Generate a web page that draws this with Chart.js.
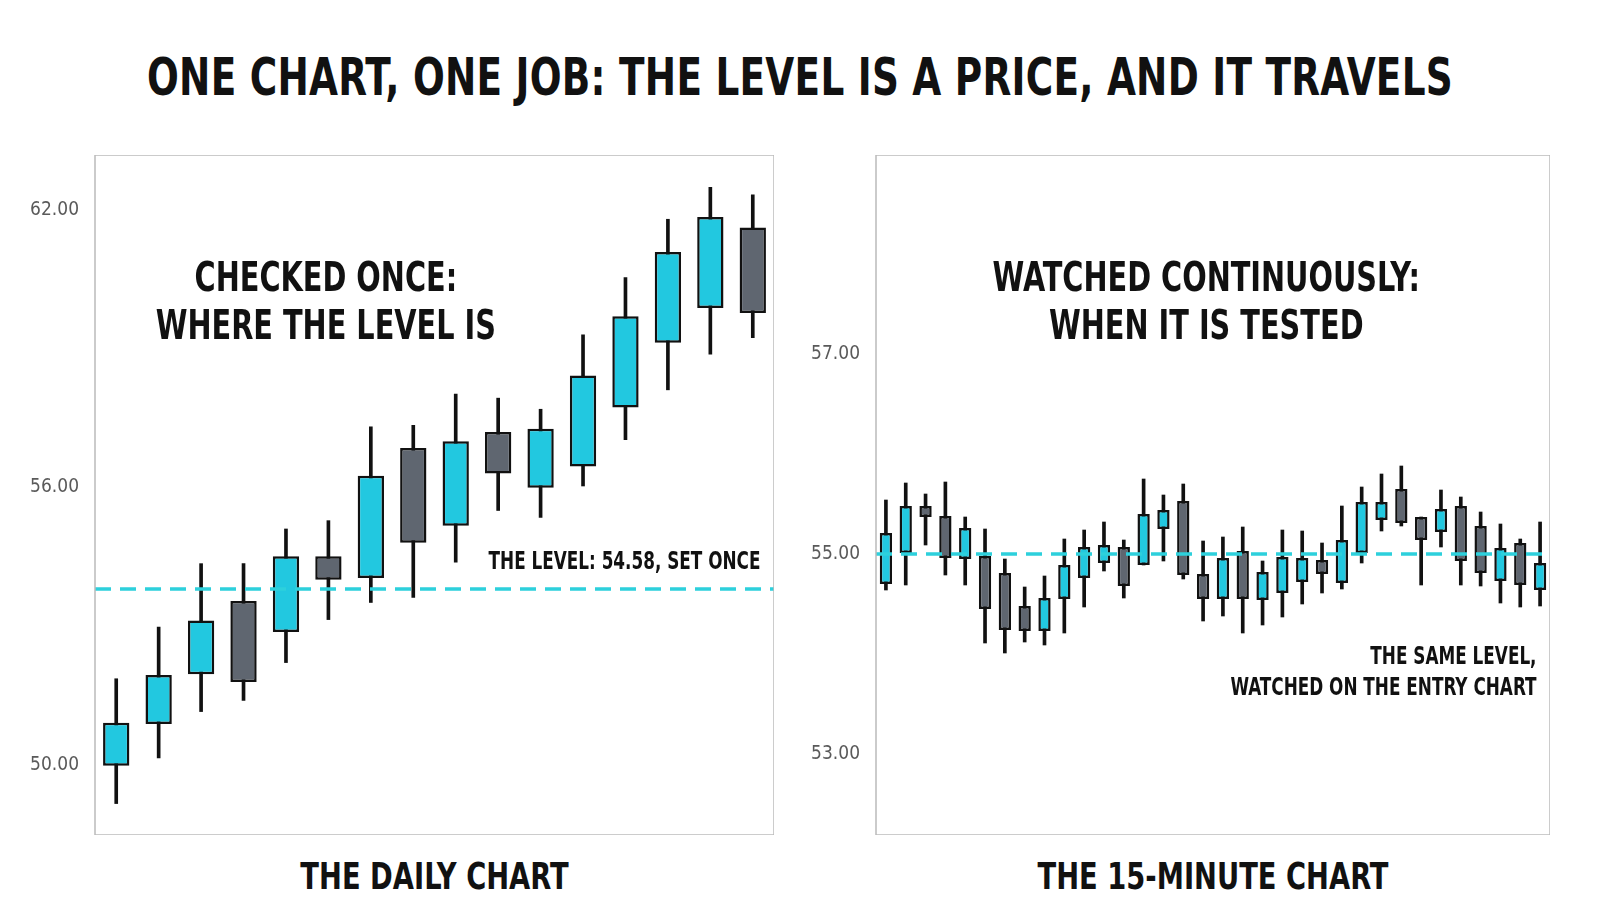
<!DOCTYPE html>
<html><head><meta charset="utf-8">
<script src="https://cdn.jsdelivr.net/npm/chart.js@4/dist/chart.umd.min.js"></script>
<style>
body{margin:0;width:1600px;height:914px;background:#fff;position:relative;overflow:hidden;font-family:"DejaVu Sans Condensed","DejaVu Sans",sans-serif;font-weight:bold;color:#111}
.t{position:absolute;white-space:nowrap;line-height:1;transform:scaleX(0.8)}
canvas{position:absolute}
</style></head><body>
<div class="t" style="left:-200px;width:2000px;top:51px;text-align:center;font-size:52px;letter-spacing:0.3px">ONE CHART, ONE JOB: THE LEVEL IS A PRICE, AND IT TRAVELS</div>
<canvas id="daily" width="774" height="680" style="left:0;top:155px"></canvas>
<canvas id="intra" width="750" height="680" style="left:800px;top:155px"></canvas>
<div class="t" style="left:95px;width:679px;top:857px;text-align:center;font-size:38px">THE DAILY CHART</div>
<div class="t" style="left:876px;width:674px;top:857px;text-align:center;font-size:38px">THE 15-MINUTE CHART</div>
<script>
// daily candles
const dOpen  = [49.98,50.88,51.96,53.54,52.87,54.51,54.04,56.85,55.17,57.20,55.99,56.45,57.73,59.13,59.88,61.62];
const dClose = [50.91,51.94,53.12,51.79,54.51,54.00,56.25,54.80,57.00,56.30,57.27,58.42,59.70,61.09,61.85,59.77];
const dHigh  = [51.86,52.98,54.35,54.35,55.10,55.28,57.31,57.34,58.02,57.93,57.69,59.30,60.54,61.80,62.49,62.33];
const dLow   = [49.16,50.15,51.15,51.39,52.21,53.14,53.51,53.62,54.38,55.50,55.35,56.03,57.03,58.11,58.88,59.24];
const dTicks = [50, 56, 62];
const dLevel = 53.8; // where the dashed line sits in the picture
// 15-minute candles
const iOpen  = [54.70,55.01,55.48,55.38,54.95,54.98,54.81,54.48,54.23,54.55,54.76,54.91,55.07,54.89,55.25,55.53,54.80,54.55,55.03,54.54,54.61,54.72,54.94,54.71,55.01,55.34,55.65,55.37,55.22,55.48,55.28,54.73,55.11,54.64];
const iClose = [55.21,55.48,55.37,54.96,55.26,54.45,54.24,54.23,54.56,54.89,55.07,55.09,54.68,55.40,55.44,54.79,54.55,54.96,54.55,54.82,54.97,54.96,54.80,55.14,55.52,55.52,55.31,55.14,55.45,54.93,54.81,55.06,54.69,54.91];
const iHigh  = [55.54,55.71,55.60,55.72,55.37,55.25,54.95,54.67,54.78,55.15,55.24,55.32,55.14,55.75,55.59,55.70,55.13,55.17,55.27,54.93,55.24,55.23,55.11,55.48,55.67,55.80,55.88,55.37,55.64,55.57,55.42,55.30,55.15,55.32];
const iLow   = [54.64,54.69,55.09,54.79,54.69,54.11,54.01,54.12,54.09,54.21,54.47,54.83,54.56,54.89,54.93,54.75,54.33,54.38,54.21,54.29,54.37,54.50,54.61,54.65,54.91,55.23,55.28,54.69,55.07,54.69,54.68,54.51,54.47,54.48];
const iTicks = [53, 55, 57];
const iLevel = 55.0;

const UP = '#22c8e0', DOWN = '#5f6670', LINE = '#2dd0dc';
const FONT = '"DejaVu Sans Condensed","DejaVu Sans",sans-serif';

const notes = {
  id: 'notes',
  afterDatasetsDraw(chart, args, o) {
    const c = chart.ctx, a = chart.chartArea, y = chart.scales.y.getPixelForValue(o.level);
    c.save();
    c.strokeStyle = LINE; c.lineWidth = 3.5; c.setLineDash([16, 9]);
    c.beginPath(); c.moveTo(a.left, y); c.lineTo(a.right, y); c.stroke();
    c.setLineDash([]); c.strokeStyle = '#bbb'; c.lineWidth = 1.5;
    c.strokeRect(a.left, a.top, a.right - a.left, a.bottom - a.top);
    c.fillStyle = '#111'; c.textBaseline = 'middle';
    for (const t of o.texts) {
      c.save();
      c.translate(a.left + t.x * (a.right - a.left), a.top + t.y * (a.bottom - a.top));
      c.scale(0.78, 1);
      c.font = 'bold ' + t.size + 'px ' + FONT;
      c.textAlign = t.align;
      c.fillText(t.text, 0, 0);
      c.restore();
    }
    c.restore();
  }
};

function candles(id, o, cl, h, l, ticks, min, max, axisW, level, texts) {
  const labels = o.map((_, i) => i + 1);
  new Chart(document.getElementById(id), {
    type: 'bar',
    data: {
      labels,
      datasets: [
        { data: o.map((v, i) => [v, cl[i]]),
          backgroundColor: o.map((v, i) => cl[i] >= v ? UP : DOWN),
          borderColor: '#111', borderWidth: 2.5, borderSkipped: false,
          grouped: false, categoryPercentage: 1, barPercentage: 0.62, order: 1 },
        { data: l.map((v, i) => [v, h[i]]), backgroundColor: '#111',
          grouped: false, barThickness: 3, order: 2 }
      ]
    },
    options: {
      responsive: false, animation: false,
      layout: { padding: 0 },
      plugins: { legend: { display: false }, tooltip: { enabled: false },
        notes: { level, texts } },
      scales: {
        x: { display: false, offset: true },
        y: { min, max, grid: { display: false }, border: { display: false },
          afterFit(s) { s.width = axisW; s.paddingTop = 0; s.paddingBottom = 0; },
          afterBuildTicks(s) { s.ticks = ticks.map(v => ({ value: v })); },
          ticks: { color: '#5a5a5a', padding: 8, font: { size: 19, family: FONT },
            callback: v => v.toFixed(2) } }
      }
    },
    plugins: [notes]
  });
}

candles('daily', dOpen, dClose, dHigh, dLow, dTicks, 48.48, 63.19, 95, dLevel, [
  { text: 'CHECKED ONCE:', x: 0.34, y: 0.185, size: 41, align: 'center' },
  { text: 'WHERE THE LEVEL IS', x: 0.34, y: 0.255, size: 41, align: 'center' },
  { text: 'THE LEVEL: 54.58, SET ONCE', x: 0.98, y: 0.6, size: 24, align: 'right' }
]);
candles('intra', iOpen, iClose, iHigh, iLow, iTicks, 52.19, 58.99, 76, iLevel, [
  { text: 'WATCHED CONTINUOUSLY:', x: 0.49, y: 0.185, size: 41, align: 'center' },
  { text: 'WHEN IT IS TESTED', x: 0.49, y: 0.255, size: 41, align: 'center' },
  { text: 'THE SAME LEVEL,', x: 0.98, y: 0.74, size: 24, align: 'right' },
  { text: 'WATCHED ON THE ENTRY CHART', x: 0.98, y: 0.785, size: 24, align: 'right' }
]);
</script>
</body></html>
